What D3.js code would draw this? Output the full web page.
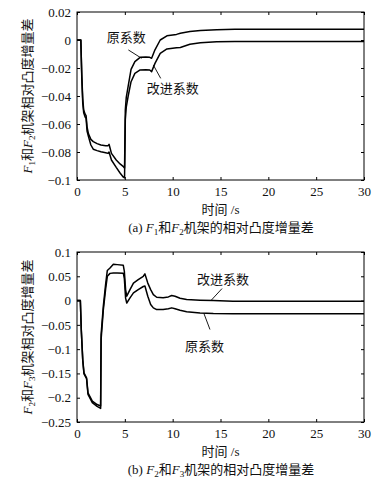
<!DOCTYPE html>
<html lang="zh">

<head>
    <meta charset="UTF-8">
    <style>
        body {
            margin: 0;
            background: #fff;
        }
    </style>
    <title>相对凸度增量差</title>
    <script src="https://d3js.org/d3.v7.min.js"></script>
</head>

<body>
    <div id="chart"></div>
    <script>
        // ---- data ----
        // panel (a): F1 and F2
        const timeA = [0, 0.4, 0.5, 0.6, 0.7, 0.85, 0.95, 1.05, 1.2, 1.45,
            1.7, 2.1, 2.5, 3.0, 3.25, 3.35, 3.6, 4.1, 4.5, 4.85,
            4.97, 5.05, 5.15, 5.35, 5.65, 6.05, 6.6, 7.2, 7.6, 7.8,
            8.15, 8.7, 9.4, 10.4, 10.8, 11.8, 12.9, 14.6, 16.5, 20,
            25, 30];
        const originalA = [0, 0, -0.025, -0.042, -0.05, -0.053, -0.054, -0.062, -0.067, -0.071,
            -0.0726, -0.074, -0.075, -0.0755, -0.0755, -0.0745, -0.081, -0.0857, -0.0885, -0.0905,
            -0.0915, -0.05, -0.041, -0.033, -0.021, -0.0155, -0.0124, -0.0122, -0.0124, -0.013,
            -0.007, 0, 0.003, 0.004, 0.0048, 0.006, 0.0067, 0.0074, 0.0076, 0.0076,
            0.0076, 0.0076];
        const improvedA = [0, 0, -0.027, -0.045, -0.052, -0.055, -0.056, -0.065, -0.069, -0.075,
            -0.078, -0.079, -0.0798, -0.0805, -0.081, -0.080, -0.0857, -0.091, -0.095, -0.098,
            -0.0985, -0.057, -0.048, -0.040, -0.0298, -0.0238, -0.0214, -0.0212, -0.0214, -0.0226,
            -0.0167, -0.0095, -0.0064, -0.0055, -0.0053, -0.003, -0.0019, -0.0012, -0.001, -0.001,
            -0.001, -0.001];

        // panel (b): F2 and F3
        const timeB = [0, 0.35, 0.45, 0.6, 0.73, 1.0, 1.15, 1.6, 2.1, 2.47,
            2.52, 2.75, 3.0, 3.17, 3.45, 3.8, 4.2, 4.84, 4.95, 5.08,
            5.2, 5.54, 5.9, 6.4, 6.93, 7.1, 7.4, 7.7, 7.98, 8.33,
            9.0, 9.55, 9.9, 10.25, 10.77, 11.46, 12.86, 14.25, 16.3, 20,
            25, 30];
        const improvedB = [0, 0, -0.06, -0.121, -0.149, -0.159, -0.19, -0.207, -0.214, -0.217,
            -0.07, -0.012, 0.035, 0.062, 0.067, 0.075, 0.074, 0.0726, 0.06, 0.0226,
            0.009, 0.0226, 0.036, 0.043, 0.05, 0.055, 0.036, 0.0226, 0.0123, 0.0068,
            0.006, 0.0075, 0.0103, 0.009, 0.0048, 0.002, 0.0007, 0, -0.0014, -0.0014,
            -0.0014, -0.0014];
        const originalB = [0, 0, -0.062, -0.123, -0.151, -0.161, -0.193, -0.21, -0.218, -0.222,
            -0.08, -0.02, 0.025, 0.05, 0.056, 0.057, 0.057, 0.0565, 0.045, 0.005,
            -0.005, 0.0055, 0.0158, 0.0226, 0.029, 0.03, 0.009, -0.008, -0.015, -0.0185,
            -0.0185, -0.017, -0.015, -0.017, -0.02, -0.023, -0.0255, -0.0267, -0.027, -0.027,
            -0.027, -0.027];

        // ticks
        const xTicks = [0, 5, 10, 15, 20, 25, 30];
        const yTicksA = [0.02, 0, -0.02, -0.04, -0.06, -0.08, -0.1];
        const yTickLabelsA = ['0.02', '0', '\u22120.02', '\u22120.04', '\u22120.06', '\u22120.08', '\u22120.1'];
        const yTicksB = [0.1, 0.05, 0, -0.05, -0.1, -0.15, -0.2, -0.25];
        const yTickLabelsB = ['0.1', '0.05', '0', '\u22120.05', '\u22120.1', '\u22120.15', '\u22120.2', '\u22120.25'];

        // labels
        const xLabel = '时间 /s';
        const seriesNames = ['原系数', '改进系数'];

        const FONT = "'Liberation Serif', 'Noto Sans CJK SC', serif";

        const svg = d3.select('#chart')
            .append('svg')
            .attr('width', 383)
            .attr('height', 483)
            .style('font-family', FONT);

        // rich text: parts of [text, italic, subscript]
        function richText(g, parts, size) {
            parts.forEach(p => {
                const t = g.append('tspan').text(p[0]);
                if (p[1]) t.attr('font-style', 'italic');
                if (p[2]) t.attr('font-size', size * 0.7).attr('dy', 3);
                if (p[3]) t.attr('dy', -3);
            });
        }

        function panel(opt) {
            const x = d3.scaleLinear().domain([0, 30]).range([77, 364]);
            const y = d3.scaleLinear().domain(opt.yDomain).range([opt.bottom, opt.top]);
            const g = svg.append('g');

            // inward ticks on all four sides
            const labelsOf = (vals, labs) => d => labs[vals.indexOf(d)];
            g.append('g')
                .attr('transform', `translate(0, ${opt.bottom})`)
                .call(d3.axisBottom(x).tickValues(xTicks).tickSize(-3).tickPadding(7));
            g.append('g')
                .attr('transform', `translate(0, ${opt.top})`)
                .call(d3.axisTop(x).tickValues(xTicks).tickSize(-3).tickFormat(''));
            g.append('g')
                .attr('transform', 'translate(77, 0)')
                .call(d3.axisLeft(y).tickValues(opt.yTicks).tickSize(-3).tickPadding(6)
                    .tickFormat(labelsOf(opt.yTicks, opt.yLabels)));
            g.append('g')
                .attr('transform', 'translate(364, 0)')
                .call(d3.axisRight(y).tickValues(opt.yTicks).tickSize(-3).tickFormat(''));

            g.selectAll('.domain').remove();
            g.selectAll('.tick line').attr('stroke', '#000');
            g.selectAll('.tick text')
                .attr('font-family', FONT)
                .attr('font-size', 13)
                .attr('fill', '#111');

            g.append('rect')
                .attr('x', 77)
                .attr('y', opt.top)
                .attr('width', 364 - 77)
                .attr('height', opt.bottom - opt.top)
                .attr('fill', 'none')
                .attr('stroke', '#000')
                .attr('stroke-width', 1);

            // curves
            const line = d3.line()
                .x(d => x(d[0]))
                .y(d => y(d[1]));
            opt.series.forEach(s => {
                g.append('path')
                    .datum(opt.time.map((t, i) => [t, s[i]]))
                    .attr('d', line)
                    .attr('fill', 'none')
                    .attr('stroke', '#000')
                    .attr('stroke-width', 1.5)
                    .attr('stroke-linejoin', 'round');
            });

            // annotations with leader lines
            opt.notes.forEach(n => {
                g.append('text')
                    .attr('x', x(n.at[0]))
                    .attr('y', y(n.at[1]))
                    .attr('font-size', 13)
                    .attr('fill', '#111')
                    .text(n.text);
                g.append('line')
                    .attr('x1', x(n.from[0]))
                    .attr('y1', y(n.from[1]))
                    .attr('x2', x(n.to[0]))
                    .attr('y2', y(n.to[1]))
                    .attr('stroke', '#000')
                    .attr('stroke-width', 0.9);
            });

            // y axis title (rotated)
            const yt = g.append('text')
                .attr('transform', `translate(32, ${(opt.top + opt.bottom) / 2}) rotate(-90)`)
                .attr('text-anchor', 'middle')
                .attr('font-size', 13)
                .attr('fill', '#111');
            richText(yt, opt.yTitle, 13);

            // x axis title
            g.append('text')
                .attr('x', 220.5)
                .attr('y', opt.bottom + 34)
                .attr('text-anchor', 'middle')
                .attr('font-size', 13)
                .attr('fill', '#111')
                .text(xLabel);

            // caption
            const cap = g.append('text')
                .attr('x', 221)
                .attr('y', opt.bottom + 52)
                .attr('text-anchor', 'middle')
                .attr('font-size', 13)
                .attr('fill', '#111');
            richText(cap, opt.caption, 13);
        }

        panel({
            top: 12,
            bottom: 180,
            yDomain: [-0.1, 0.02],
            yTicks: yTicksA,
            yLabels: yTickLabelsA,
            time: timeA,
            series: [originalA, improvedA],
            notes: [
                { text: seriesNames[0], at: [3.1, -0.0014], from: [5.37, -0.0071], to: [6.76, -0.0131] },
                { text: seriesNames[1], at: [7.3, -0.0379], from: [7.98, -0.0179], to: [8.75, -0.0274] }
            ],
            yTitle: [['F', true], ['1', false, true], ['和', false, false, true], ['F', true], ['2', false, true], ['机架相对凸度增量差', false, false, true]],
            caption: [['(a) '], ['F', true], ['1', false, true], ['和', false, false, true], ['F', true], ['2', false, true], ['机架的相对凸度增量差', false, false, true]]
        });

        panel({
            top: 252,
            bottom: 422,
            yDomain: [-0.25, 0.1],
            yTicks: yTicksB,
            yLabels: yTickLabelsB,
            time: timeB,
            series: [originalB, improvedB],
            notes: [
                { text: seriesNames[1], at: [12.54, 0.0349], from: [14.0, 0], to: [15.16, 0.0247] },
                { text: seriesNames[0], at: [11.29, -0.1048], from: [13.27, -0.0267], to: [13.9, -0.0596] }
            ],
            yTitle: [['F', true], ['2', false, true], ['和', false, false, true], ['F', true], ['3', false, true], ['机架相对凸度增量差', false, false, true]],
            caption: [['(b) '], ['F', true], ['2', false, true], ['和', false, false, true], ['F', true], ['3', false, true], ['机架的相对凸度增量差', false, false, true]]
        });
    </script>
</body>

</html>
